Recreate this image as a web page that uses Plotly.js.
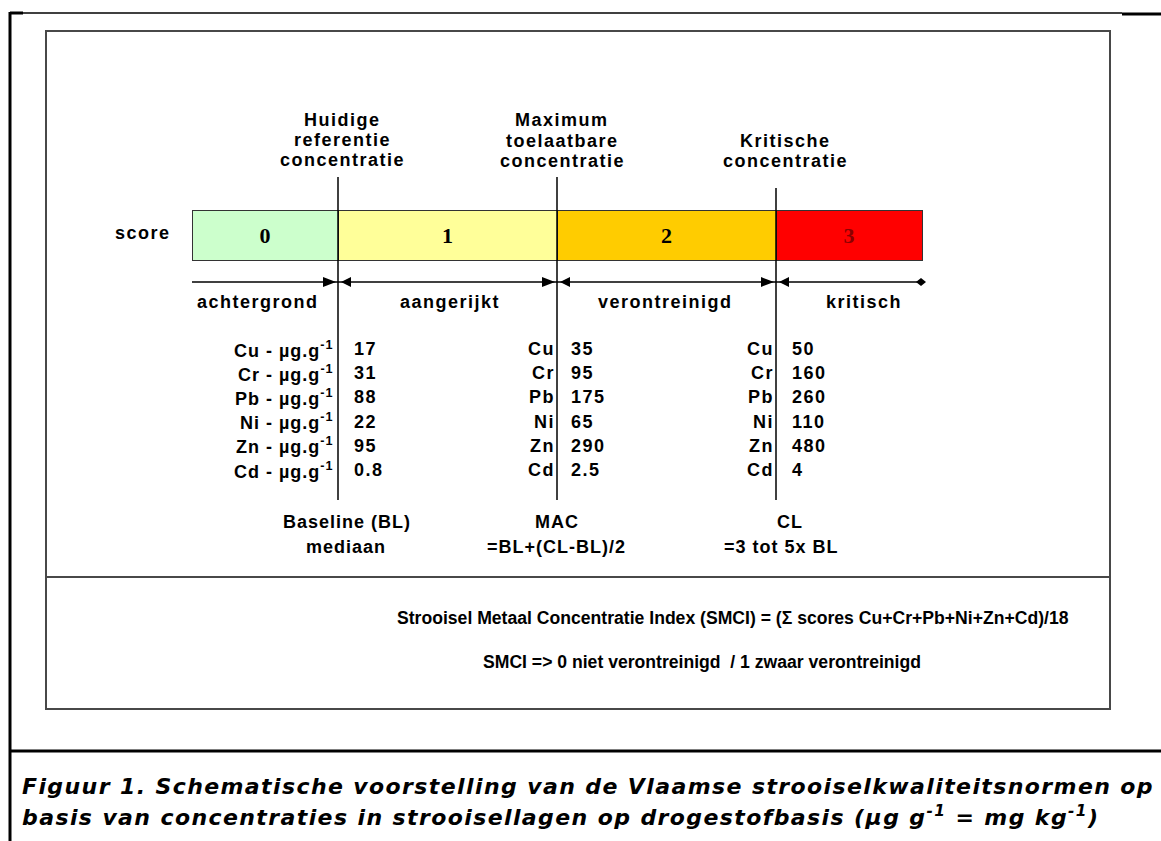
<!DOCTYPE html>
<html><head><meta charset="utf-8">
<script src="https://cdn.plot.ly/plotly-3.0.1.min.js"></script>
<style>body{margin:0;background:#fff}</style>
</head><body><div id="chart" style="width:1161px;height:841px"></div>
<script>
// ---- data ----
const scores = ['0', '1', '2', '3'];
const classWidths = [1, 1.5, 1.5, 1];
const classColors = ['#CCFFCC', '#FFFF99', '#FFCC00', '#FF0000'];
const scoreTextColors = ['#000000', '#000000', '#000000', '#8B0000'];
const classNames = ['achtergrond', 'aangerijkt', 'verontreinigd', 'kritisch'];
const thresholdTitles = [['Huidige', 'referentie', 'concentratie'], ['Maximum', 'toelaatbare', 'concentratie'], ['Kritische', 'concentratie']];
const thresholdNames = [['Baseline (BL)', 'mediaan'], ['MAC', '=BL+(CL-BL)/2'], ['CL', '=3 tot 5x BL']];
const metals = ['Cu', 'Cr', 'Pb', 'Ni', 'Zn', 'Cd'];
const baselineValues = ['17', '31', '88', '22', '95', '0.8'];
const macValues = ['35', '95', '175', '65', '290', '2.5'];
const clValues = ['50', '160', '260', '110', '480', '4'];
const formulaLines = ['Strooisel Metaal Concentratie Index (SMCI) = (Σ scores Cu+Cr+Pb+Ni+Zn+Cd)/18',
                      'SMCI => 0 niet verontreinigd  / 1 zwaar verontreinigd'];
const captionLines = ['Figuur 1. Schematische voorstelling van de Vlaamse strooiselkwaliteitsnormen op',
                      'basis van concentraties in strooisellagen op drogestofbasis (µg g<sup>-1</sup> = mg kg<sup>-1</sup>)'];

// ---- layout helpers ----
const W = 1161, H = 841;
const BAR_LEFT = 192, UNIT = 146;
const X = px => (px - BAR_LEFT) / UNIT;      // pixel column -> schematic unit
const toPx = u => BAR_LEFT + u * UNIT;
const BAR_Y = 235, BAR_H = 50;

const bounds = [];
classWidths.reduce((a, w) => { bounds.push(a + w); return a + w; }, 0);
const thresholds = bounds.slice(0, 3);

const ARIAL = 'Arial, Liberation Sans, sans-serif';
const ls = (t, s) => `<span style="letter-spacing:${s}px">${t}</span>`;
const LBL = { family: ARIAL, size: 18, color: '#000', weight: 'bold' };

// ---- traces ----
const traces = scores.map((s, i) => ({
  type: 'bar', orientation: 'h',
  x: [classWidths[i]], y: [BAR_Y], width: BAR_H,
  marker: { color: classColors[i], line: { color: '#333333', width: 1 } },
  text: [s], textposition: 'inside', insidetextanchor: 'middle',
  textfont: { family: 'Liberation Serif, Times New Roman, serif', size: 22, color: scoreTextColors[i], weight: 'bold' },
  hoverinfo: 'skip', showlegend: false, cliponaxis: false
}));

// ---- shapes ----
const shapes = [];
const line = (x0, y0, x1, y1, color, width) => shapes.push({ type: 'line', xref: 'x', yref: 'y', x0: X(x0), y0: y0, x1: X(x1), y1: y1, line: { color: color, width: width }, layer: 'above' });
// outer frame
line(10, 13, 1122, 13, '#000', 1.5);
line(1122, 14, 1161, 14, '#000', 3);
line(10, 13, 23, 13, '#000', 3);
line(10, 12, 10, 841, '#000', 3);
line(10, 751, 1161, 751, '#000', 3);
// inner box
shapes.push({ type: 'rect', xref: 'x', yref: 'y', x0: X(46), y0: 31, x1: X(1110), y1: 709, line: { color: '#484848', width: 2 }, layer: 'below' });
line(46, 577, 1110, 577, '#484848', 2);
// threshold lines
const lineTops = [177, 177, 188];
thresholds.forEach((b, i) => shapes.push({ type: 'line', xref: 'x', yref: 'y', x0: b, x1: b, y0: lineTops[i], y1: 500, line: { color: '#000', width: 1.5 }, layer: 'above' }));
// arrow line
const ARR_Y = 282;
shapes.push({ type: 'line', xref: 'x', yref: 'y', x0: 0, x1: X(921), y0: ARR_Y, y1: ARR_Y, line: { color: '#000', width: 1.5 } });
const tri = (tip, base) => `M ${X(tip)} ${ARR_Y} L ${X(base)} ${ARR_Y - 5} L ${X(base)} ${ARR_Y + 5} Z`;
thresholds.forEach(b => {
  const bp = toPx(b);
  shapes.push({ type: 'path', xref: 'x', yref: 'y', path: tri(bp - 2, bp - 15), fillcolor: '#000', line: { width: 0 } });
  shapes.push({ type: 'path', xref: 'x', yref: 'y', path: tri(bp + 3, bp + 13), fillcolor: '#000', line: { width: 0 } });
});
shapes.push({ type: 'path', xref: 'x', yref: 'y', path: `M ${X(916)} ${ARR_Y} L ${X(921)} ${ARR_Y - 4} L ${X(926)} ${ARR_Y} L ${X(921)} ${ARR_Y + 4} Z`, fillcolor: '#000', line: { width: 0 } });

// ---- annotations ----
const anns = [];
const ann = (x, y, text, o = {}) => anns.push(Object.assign({
  xref: 'x', yref: 'y', x: x, y: y, text: text, showarrow: false,
  xanchor: 'center', yanchor: 'middle', font: LBL
}, o));

ann(X(143), 233, ls('score', 1.5));

const titleX = [342, 562, 785];
const titleYs = [[120, 140, 160], [120, 141, 161], [141, 161]];
thresholdTitles.forEach((lines, i) => lines.forEach((t, j) => ann(X(titleX[i]), titleYs[i][j], ls(t, 1.5))));

const classX = [258, 450, 665, 864];
classNames.forEach((t, i) => ann(X(classX[i]), 302, ls(t, 1.5)));

const ROW0 = 349, ROWH = 24.2;
metals.forEach((m, i) => {
  const y = ROW0 + i * ROWH;
  ann(thresholds[0], y, ls(m + ' - µg.g<sup>-1</sup>', 1), { xanchor: 'right', xshift: -2 });
  ann(thresholds[0], y, ls(baselineValues[i], 1.5), { xanchor: 'left', xshift: 14 });
  ann(thresholds[1], y, ls(m, 1.5), { xanchor: 'right', xshift: 0 });
  ann(thresholds[1], y, ls(macValues[i], 1.5), { xanchor: 'left', xshift: 12 });
  ann(thresholds[2], y, ls(m, 1.5), { xanchor: 'right', xshift: 0 });
  ann(thresholds[2], y, ls(clValues[i], 1.5), { xanchor: 'left', xshift: 14 });
});

const nameX = [[347, 346], [557, 556], [790, 781]];
thresholdNames.forEach((lines, i) => lines.forEach((t, j) => ann(X(nameX[i][j]), 522 + j * 25, ls(t, 1))));

const FORM = { family: ARIAL, size: 17.6, color: '#000', weight: 'bold' };
ann(X(733), 618, formulaLines[0], { font: FORM });
ann(X(702), 662, formulaLines[1], { font: FORM });

captionLines.forEach((t, j) => ann(X(20), 786 + j * 30, ls(t, 1.4), {
  xanchor: 'left',
  font: { family: 'DejaVu Sans, Verdana, sans-serif', size: 22, color: '#000', weight: 'bold', style: 'italic' }
}));

const layout = {
  width: W, height: H,
  margin: { l: 0, r: 0, t: 0, b: 0 },
  paper_bgcolor: '#ffffff', plot_bgcolor: '#ffffff',
  barmode: 'stack', bargap: 0,
  xaxis: { range: [X(0), X(W)], visible: false, fixedrange: true },
  yaxis: { range: [H, 0], visible: false, fixedrange: true },
  shapes: shapes, annotations: anns, showlegend: false
};

Plotly.newPlot('chart', traces, layout, { staticPlot: true, displayModeBar: false });
</script>
</body></html>
